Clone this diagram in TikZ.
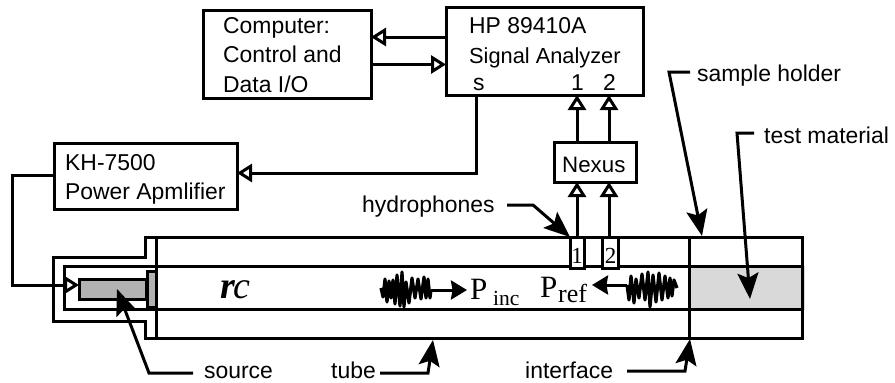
\documentclass[tikz,border=0pt]{standalone}
\usepackage{fontspec}
\setmainfont{Liberation Sans}
\newfontfamily\serifface{Liberation Serif}
\usetikzlibrary{arrows.meta}
\tikzset{
  px/.style={x=1pt,y=-1pt},
  wire/.style={line width=3pt,line join=miter},
  boxnode/.style={draw,line width=3pt,inner sep=0pt,outer sep=0pt},
  opentip/.style={wire,-{Triangle[open,fill=white,length=15pt,width=18pt,line width=3pt]}},
  callout/.style={wire,-{Stealth[length=26pt,width=21pt,inset=5pt]}},
  shorttip/.style={wire,-{Stealth[length=16pt,width=19pt,inset=1.5pt]}},
  lab/.style={font=\fontsize{22.9}{24}\selectfont,inner sep=0pt,anchor=base west},
  wavy/.style={line width=3.2pt,line join=round},
  sym/.style={font=\serifface\fontsize{26}{28}\selectfont,inner sep=0pt,anchor=base west},
}
\begin{document}
\begin{tikzpicture}[px]
\useasboundingbox (0,0) rectangle (895,383);
% test material
\fill[black!15] (690,266) rectangle (805,310);
% boxes
\node[boxnode,minimum width=168pt,minimum height=88pt] (comp) at (287,54) {};
\node[boxnode,minimum width=197pt,minimum height=88pt] (ana) at (544.5,51) {};
\node[boxnode,minimum width=183pt,minimum height=66pt] (kh) at (145.5,176) {};
\node[boxnode,minimum width=82pt,minimum height=40pt] (nexus) at (595,162) {};
% box texts
\node[lab] (t1) at (223,33) {Computer:};
\node[lab] (t2) at (223,62) {Control and};
\node[lab] (t3) at (223,92) {Data I/O};
\node[lab] (t4) at (469,33) {HP 89410A};
\node[lab,font=\fontsize{21.8}{24}\selectfont] (t5) at (469,63) {Signal Analyzer};
\node[lab] (t6) at (473,90) {s};
\node[lab] (t7) at (571,90) {1};
\node[lab] (t8) at (603,90) {2};
\node[lab] (t9) at (65,170) {KH-7500};
\node[lab] (t10) at (65,199) {Power Apmlifier};
\node[lab,font=\fontsize{22.3}{24}\selectfont] (t11) at (562,172) {Nexus};
% tube
\draw[wire] (145,237) -- (802,237) -- (802,338) -- (145,338) -- (145,321) -- (53,321) -- (53,257) -- (145,257) -- cycle;
\draw[wire] (156,237) -- (156,338);
\draw[wire] (156,266) -- (64,266) -- (64,309) -- (156,309);
\draw[wire] (156,266) -- (802,266);
\draw[wire] (156,309) -- (802,309);
\draw[wire] (689,237) -- (689,338);
% source
\node[boxnode,fill=black!30,minimum width=67pt,minimum height=20pt] (src) at (112.5,289) {};
\node[boxnode,fill=black!30,minimum width=9pt,minimum height=36pt] (plate) at (151.5,289) {};
% hydrophones
\node[boxnode,minimum width=14pt,minimum height=31pt,fill=white] (h1) at (577,252.5) {};
\node[boxnode,minimum width=16pt,minimum height=31pt,fill=white] (h2) at (610.5,252.5) {};
\node[font=\serifface\fontsize{23}{24}\selectfont,inner sep=0pt,anchor=base] (n1) at (577,263) {1};
\node[font=\serifface\fontsize{23}{24}\selectfont,inner sep=0pt,anchor=base] (n2) at (610.5,263) {2};
% connectors
\draw[opentip] (ana.west |- 0,37) -- (comp.east |- 0,37);
\draw[opentip] (comp.east |- 0,64.5) -- (ana.west |- 0,64.5);
\draw[opentip] (476,95) -- (476,173) -- (kh.east |- 0,173);
\draw[opentip] (577,142) -- (577,95);
\draw[opentip] (609,142) -- (609,95);
\draw[opentip] (577,237) -- (577,182);
\draw[opentip] (609,237) -- (609,182);
\coordinate (khl) at (kh.west |- 0,175);
\coordinate (srcin) at (src.west |- 0,285);
\draw[opentip] (khl) -- (12,175) -- (12,285) -- (srcin);
% callouts
\node[lab] (source) at (204,378) {source};
\node[lab] (tube) at (331,378) {tube};
\node[lab] (interface) at (525,378) {interface};
\node[lab] (hyd) at (362,212) {hydrophones};
\node[lab] (sh) at (697,81.5) {sample holder};
\node[lab] (tm) at (764,143) {test material};
\coordinate (a1) at (193,373); \coordinate (a2) at (117,289);
\draw[callout] (a1) -- (149,373) -- (a2);
\coordinate (b1) at (380,373); \coordinate (b2) at (433,340);
\draw[callout] (b1) -- (428,373) -- (b2);
\coordinate (c1) at (627,371); \coordinate (c2) at (690,339);
\draw[callout] (c1) -- (685,371) -- (c2);
\coordinate (d1) at (507,205); \coordinate (d2) at (570,237);
\draw[callout] (d1) -- (533,205) -- (d2);
\coordinate (e1) at (690,72); \coordinate (e2) at (702,236);
\draw[callout] (e1) -- (669,72) -- (e2);
\coordinate (f1) at (754,133); \coordinate (f2) at (750,299);
\draw[callout] (f1) -- (737,133) -- (f2);
% waves
\draw[wavy] (381,288) -- (383,297) -- (385,279) -- (387,302) -- (389,281) -- (391,298) -- (393,280) -- (395,304) -- (397,275) -- (400,306) -- (402,272) -- (404,307) -- (406,282) -- (409,303) -- (412,278) -- (415,298) -- (418,279) -- (421,299) -- (424,277) -- (426,298) -- (428,279) -- (430,298) -- (431,290);
\draw[shorttip] (431,290) -- (467,290);
\draw[wavy] (627,285) -- (629,300) -- (631,276) -- (634,303) -- (636,279) -- (639,298) -- (642,274) -- (645,300) -- (648,272) -- (650,307) -- (653,275) -- (656,302) -- (659,273) -- (662,300) -- (665,276) -- (668,298) -- (670,278) -- (672,296) -- (674,280) -- (677,288);
\draw[shorttip] (627,285) -- (592,285);
% labels in tube
\node[sym,font=\serifface\fontsize{38}{40}\selectfont] (rc) at (220,298) {\bfseries\itshape r\kern-1pt\mdseries c};
\node[sym,font=\serifface\fontsize{31}{34}\selectfont] (p1) at (470,299) {P};
\node[sym,font=\serifface\fontsize{21.5}{24}\selectfont] (p1s) at (493,305) {inc};
\node[sym,font=\serifface\fontsize{31}{34}\selectfont] (p2) at (540,297) {P};
\node[sym] (p2s) at (558,302) {ref};
\end{tikzpicture}
\end{document}
